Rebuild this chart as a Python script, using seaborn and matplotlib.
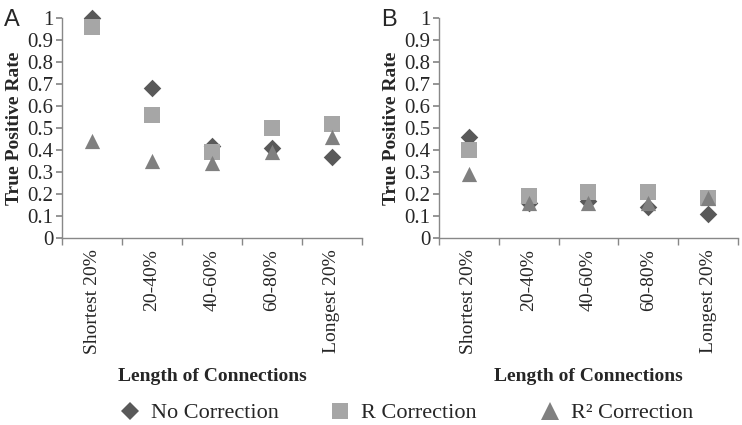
import numpy as np
import pandas as pd
import seaborn as sns
import matplotlib.pyplot as plt
from matplotlib.lines import Line2D

sns.set_theme(style="white")
plt.rcParams["font.family"] = ["Liberation Serif", "DejaVu Serif"]

categories = ["Shortest 20%", "20-40%", "40-60%", "60-80%", "Longest 20%"]
series_names = ["No Correction", "R Correction", "R² Correction"]

a_none = [1.00, 0.68, 0.42, 0.41, 0.37]
a_r = [0.96, 0.56, 0.39, 0.50, 0.52]
a_r2 = [0.44, 0.35, 0.34, 0.39, 0.46]

b_none = [0.46, 0.16, 0.17, 0.14, 0.11]
b_r = [0.40, 0.19, 0.21, 0.21, 0.18]
b_r2 = [0.29, 0.16, 0.16, 0.16, 0.18]

def make_frame(vals):
    rows = []
    for name, v in zip(series_names, vals):
        for c, y in zip(categories, v):
            rows.append({"length": c, "rate": y, "method": name})
    return pd.DataFrame(rows)

panels = {
    "A": make_frame([a_none, a_r, a_r2]),
    "B": make_frame([b_none, b_r, b_r2]),
}

palette = {"No Correction": "#595959", "R Correction": "#a6a6a6", "R² Correction": "#808080"}
markers = {"No Correction": "D", "R Correction": "s", "R² Correction": "^"}
sizes = {"No Correction": 80, "R Correction": 130, "R² Correction": 120}

fig = plt.figure(figsize=(7.42, 4.25), dpi=100)
axes = [fig.add_axes([0.0836, 0.44, 0.404, 0.5176]),
        fig.add_axes([0.5916, 0.44, 0.403, 0.5176])]

for ax, (letter, df) in zip(axes, panels.items()):
    for name in series_names:
        sns.scatterplot(ax=ax, data=df[df.method == name], x="length", y="rate",
                        color=palette[name], marker=markers[name], s=sizes[name],
                        linewidth=0, legend=False, zorder=3, clip_on=False)
    ax.set_xlim(-0.5, 4.5)
    ax.set_ylim(0, 1)
    ax.set_yticks(np.arange(0, 1.01, 0.1))
    ax.set_yticklabels(["0"] + [f"{v:.1f}" for v in np.arange(0.1, 0.95, 0.1)] + ["1"], fontsize=15)
    ax.set_xticks(range(5))
    ax.set_xticklabels(categories, rotation=90, fontsize=14)
    ax.set_xticks(np.arange(-0.5, 4.6, 1), minor=True)
    ax.tick_params(axis="x", which="major", length=0, pad=8)
    ax.tick_params(axis="x", which="minor", length=5, color="#888888", direction="out", bottom=True)
    ax.tick_params(axis="y", length=4, color="#888888", direction="out", left=True, pad=2)
    for side in ["top", "right"]:
        ax.spines[side].set_visible(False)
    for side in ["left", "bottom"]:
        ax.spines[side].set_color("#888888")
        ax.spines[side].set_linewidth(1)
    ax.set_xlabel("Length of Connections", fontsize=14, fontweight="bold", labelpad=10)
    ax.set_ylabel("True Positive Rate", fontsize=14, fontweight="bold", labelpad=3)
    ax.text(-0.195, 0.99, letter, transform=ax.transAxes, fontsize=17,
            family="Liberation Sans", va="center", ha="left")

handles = [
    Line2D([], [], linestyle="", marker="D", markersize=9, color=palette["No Correction"], markeredgewidth=0),
    Line2D([], [], linestyle="", marker="s", markersize=11, color=palette["R Correction"], markeredgewidth=0),
    Line2D([], [], linestyle="", marker="^", markersize=13, color=palette["R² Correction"], markeredgewidth=0),
]
legend_x = [0.1597, 0.4427, 0.7257]
for h, lab, x in zip(handles, series_names, legend_x):
    fig.legend([h], [lab], loc="center left", bbox_to_anchor=(x, 0.028), frameon=False,
               fontsize=16, borderpad=0, borderaxespad=0, handletextpad=0.45, handlelength=1.0)

fig.savefig("out.png", dpi=100)
